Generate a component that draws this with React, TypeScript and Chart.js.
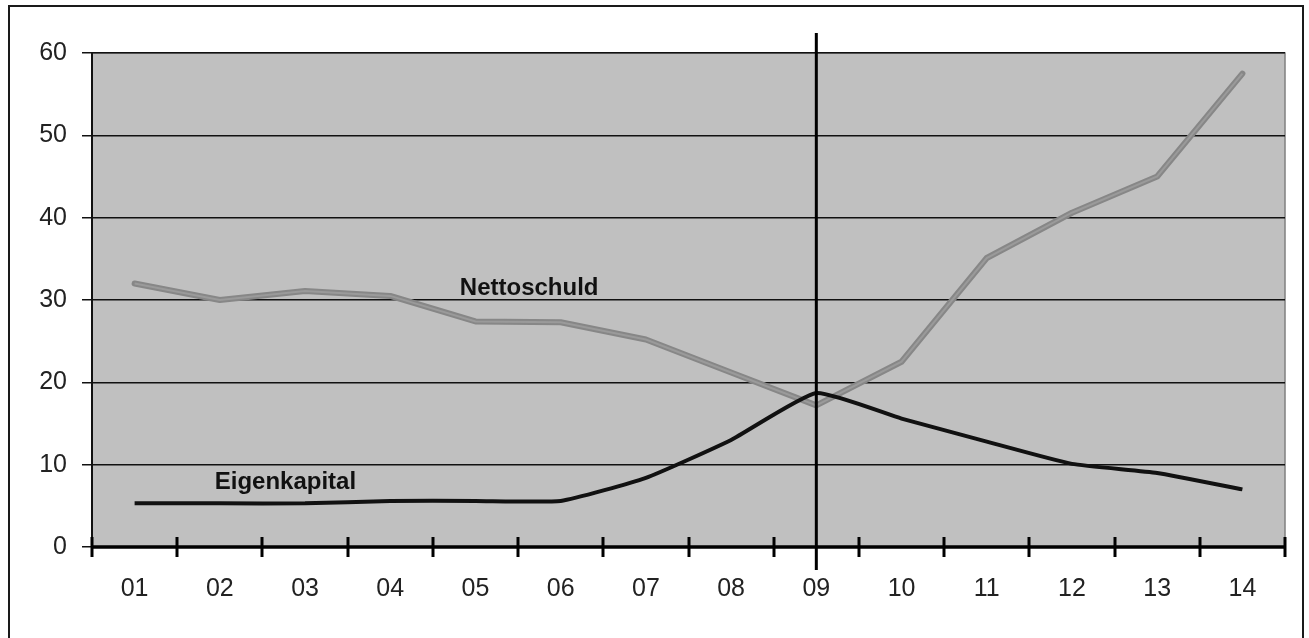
import React, { useEffect, useRef } from 'react';
import { Chart, registerables } from 'chart.js';

Chart.register(...registerables);

const categories = ['01', '02', '03', '04', '05', '06', '07', '08', '09', '10', '11', '12', '13', '14'];
const nettoschuld = [32, 30, 31.1, 30.5, 27.4, 27.3, 25.2, 21.2, 17.2, 22.5, 35.1, 40.6, 45, 57.5];
const eigenkapital = [5.3, 5.3, 5.3, 5.6, 5.6, 5.6, 8.4, 13, 18.7, 15.6, 12.8, 10.1, 9.0, 7.0];
const yMin = 0;
const yMax = 60;
const yStep = 10;
const markerCategory = '09';
const seriesNames = ['Eigenkapital', 'Nettoschuld'];

const FONT = '"Liberation Sans", Arial, sans-serif';

const framePlugin = {
  id: 'framePlugin',
  beforeDraw(chart: any) {
    const { ctx, chartArea: a, width, height } = chart;
    ctx.save();
    ctx.fillStyle = '#ffffff';
    ctx.fillRect(0, 0, width, height);
    ctx.strokeStyle = '#1a1a1a';
    ctx.lineWidth = 2;
    ctx.strokeRect(9, 6, 1294, 700);
    ctx.fillStyle = '#c0c0c0';
    ctx.fillRect(a.left, a.top, a.right - a.left, a.bottom - a.top);
    ctx.strokeStyle = '#808080';
    ctx.lineWidth = 1.5;
    ctx.strokeRect(a.left, a.top, a.right - a.left, a.bottom - a.top);
    ctx.restore();
  },
  afterDatasetsDraw(chart: any) {
    const { ctx, chartArea: a, scales } = chart;
    const x = scales.x;
    const y = scales.y;
    ctx.save();
    // x axis line
    ctx.strokeStyle = '#000';
    ctx.lineWidth = 3.5;
    const y0 = y.getPixelForValue(0);
    ctx.beginPath();
    ctx.moveTo(a.left, y0);
    ctx.lineTo(a.right, y0);
    ctx.stroke();
    // tick marks at category boundaries
    ctx.lineWidth = 3;
    for (let i = 0; i <= categories.length; i++) {
      const px = Math.round(x.getPixelForValue(i - 0.5));
      ctx.beginPath();
      ctx.moveTo(px, y0 - 10);
      ctx.lineTo(px, y0 + 10);
      ctx.stroke();
    }
    // vertical marker line
    const mx = x.getPixelForValue(categories.indexOf(markerCategory));
    ctx.lineWidth = 3;
    ctx.beginPath();
    ctx.moveTo(mx, a.top - 20);
    ctx.lineTo(mx, y0 + 23);
    ctx.stroke();
    // series labels
    ctx.fillStyle = '#111';
    ctx.font = `bold 24px ${FONT}`;
    ctx.textAlign = 'center';
    ctx.textBaseline = 'middle';
    ctx.fillText(seriesNames[1], x.getPixelForValue(4.63), y.getPixelForValue(31.4));
    ctx.fillText(seriesNames[0], x.getPixelForValue(1.77), y.getPixelForValue(7.8));
    ctx.restore();
  },
};

export default function App() {
  const ref = useRef<HTMLCanvasElement | null>(null);

  useEffect(() => {
    if (!ref.current) return;
    const chart = new Chart(ref.current, {
      type: 'line',
      data: {
        labels: categories,
        datasets: [
          {
            label: seriesNames[0],
            data: eigenkapital,
            borderColor: '#111',
            borderWidth: 4,
            pointRadius: 0,
            tension: 0.15,
            order: 0,
          },
          {
            label: seriesNames[1] + ' core',
            data: nettoschuld,
            borderColor: '#9a9a9a',
            borderWidth: 2,
            pointRadius: 0,
            tension: 0,
            order: 1,
          },
          {
            label: seriesNames[1],
            data: nettoschuld,
            borderColor: '#878787',
            borderWidth: 6,
            pointRadius: 0,
            tension: 0,
            order: 2,
            borderCapStyle: 'round',
            borderJoinStyle: 'round',
          },
        ],
      },
      options: {
        responsive: false,
        animation: false,
        devicePixelRatio: 1,
        layout: { padding: { top: 53, right: 24, left: 0, bottom: 0 } },
        plugins: {
          legend: { display: false },
          tooltip: { enabled: false },
          title: { display: false },
        },
        scales: {
          x: {
            type: 'category',
            offset: true,
            grid: { display: false, drawTicks: false, offset: true },
            border: { display: false },
            ticks: {
              padding: 27,
              color: '#222',
              font: { family: FONT, size: 25 },
              maxRotation: 0,
              autoSkip: false,
            },
            afterFit(scale: any) {
              scale.height = 91;
            },
          },
          y: {
            min: yMin,
            max: yMax,
            ticks: {
              stepSize: yStep,
              padding: 15,
              color: '#222',
              font: { family: FONT, size: 25 },
            },
            grid: {
              color: '#111',
              lineWidth: 1.5,
              drawTicks: true,
              tickLength: 10,
              tickColor: '#111',
            },
            border: { display: true, color: '#111', width: 2 },
            afterFit(scale: any) {
              scale.width = 92;
            },
          },
        },
      },
      plugins: [framePlugin],
    });
    return () => chart.destroy();
  }, []);

  return (
    <div style={{ position: 'fixed', left: 0, top: 0, width: 1309, height: 638 }}>
      <canvas ref={ref} width={1309} height={638} style={{ display: 'block' }} />
    </div>
  );
}
